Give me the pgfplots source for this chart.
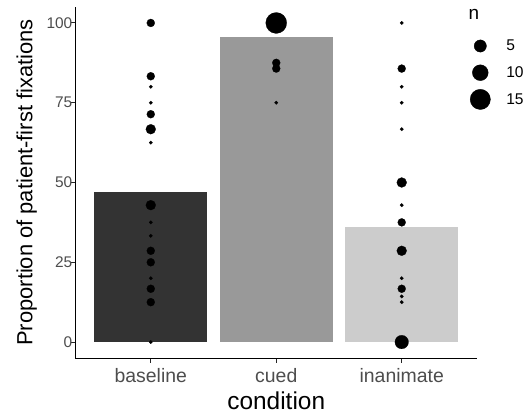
\documentclass[border=0pt]{standalone}
\usepackage{pgfplots}
\pgfplotsset{compat=1.18}
\usepackage{pgfplotstable}
\usepackage{fontspec}
\setmainfont{Liberation Sans}
\definecolor{barbase}{HTML}{333333}
\definecolor{barcued}{HTML}{999999}
\definecolor{barinan}{HTML}{CCCCCC}
\definecolor{ticktext}{HTML}{4D4D4D}

% per-subject proportions, n = number of subjects at that value
\pgfplotstableread{
x y n
1 100 2
1 83.3 2
1 80 1
1 75 1
1 71.4 2
1 66.7 3
1 62.5 1
1 42.9 3
1 37.5 1
1 33.3 1
1 28.6 2
1 25 2
1 20 1
1 16.7 2
1 12.5 2
1 0 1
}\tblbase
\pgfplotstableread{
x y n
2 100 16
2 87.5 2
2 85.7 2
2 75 1
}\tblcued
\pgfplotstableread{
x y n
3 100 1
3 85.7 2
3 80 1
3 75 1
3 66.7 1
3 50 3
3 42.9 1
3 37.5 2
3 28.6 3
3 20 1
3 16.7 2
3 14.3 1
3 12.5 1
3 0 6
}\tblinan

\pgfplotsset{
  sizepts/.style={scatter, only marks, mark=*,
    scatter/use mapped color={draw=black, fill=black},
    mark options={line width=0.2bp},
    visualization depends on={1.75*(1+5*sqrt((\thisrow{n}-1)/15)) \as \msize},
    scatter/@pre marker code/.append style={/tikz/mark size=\msize bp}},
  bar/.style={ybar, bar width=0.9, bar shift=0pt, draw=none, fill=#1},
  keydot/.style={legend image code/.code={\fill[black] (0bp,0bp) circle[radius=#1];
    \path[draw=none, fill=none] (-10bp,-10.5bp) rectangle (10bp,10.5bp);}},
}

\begin{document}
\begin{tikzpicture}
\path[use as bounding box] (-75.5bp,-56bp) rectangle (455.5bp,358bp);
\begin{axis}[
  at={(0,0)}, anchor=south west,
  width=401.5bp, height=351bp, scale only axis,
  xmin=0.4, xmax=3.6, ymin=-5, ymax=105,
  axis lines=left, axis line style={-, line width=1bp, black},
  xtick={1,2,3}, xticklabels={baseline,cued,inanimate},
  ytick={0,25,50,75,100},
  tick align=outside, major tick length=4.5bp,
  tick style={line width=1bp, color=black!85},
  /pgf/number format/assume math mode=true,
  x tick label style={font=\fontsize{19.5}{20}\selectfont, text=ticktext, anchor=base, inner sep=0pt, yshift=-19.8bp},
  y tick label style={font=\fontsize{15.5}{16}\selectfont, text=ticktext, anchor=east, inner sep=0pt, xshift=1.5bp},
  xlabel={condition},
  ylabel={Proportion of patient-first fixations},
  xlabel style={at={(axis description cs:0.5,-0.1462)}, anchor=base, inner sep=0pt, font=\fontsize{24.5}{25}\selectfont},
  ylabel style={at={(axis description cs:-0.1076,0.5)}, anchor=base, inner sep=0pt, font=\fontsize{22}{22}\selectfont},
  clip=false,
  legend style={draw=none, fill=none, inner sep=0pt, outer sep=0pt,
    at={(axis description cs:0.98256,0.91880)}, anchor=north west,
    row sep=5.7bp, font=\fontsize{15.6}{16}\selectfont,
    nodes={inner sep=0pt},
    /tikz/every odd column/.append style={column sep=15.7bp}},
  legend cell align=left,
]
\addplot[bar=barbase, forget plot] coordinates {(1,47.1)};
\addplot[bar=barcued, forget plot] coordinates {(2,95.6)};
\addplot[bar=barinan, forget plot] coordinates {(3,36.2)};
\addplot[sizepts, forget plot] table[x=x, y=y] {\tblbase};
\addplot[sizepts, forget plot] table[x=x, y=y] {\tblcued};
\addplot[sizepts, forget plot] table[x=x, y=y] {\tblinan};
\addlegendimage{keydot=6.1bp}
\addlegendentry{5}
\addlegendimage{keydot=7.9bp}
\addlegendentry{10}
\addlegendimage{keydot=10.1bp}
\addlegendentry{15}
\node[anchor=base west, inner sep=0pt, font=\fontsize{19}{19}\selectfont] at (axis description cs:0.97833,0.96496) {n};
\end{axis}
\end{tikzpicture}
\end{document}
